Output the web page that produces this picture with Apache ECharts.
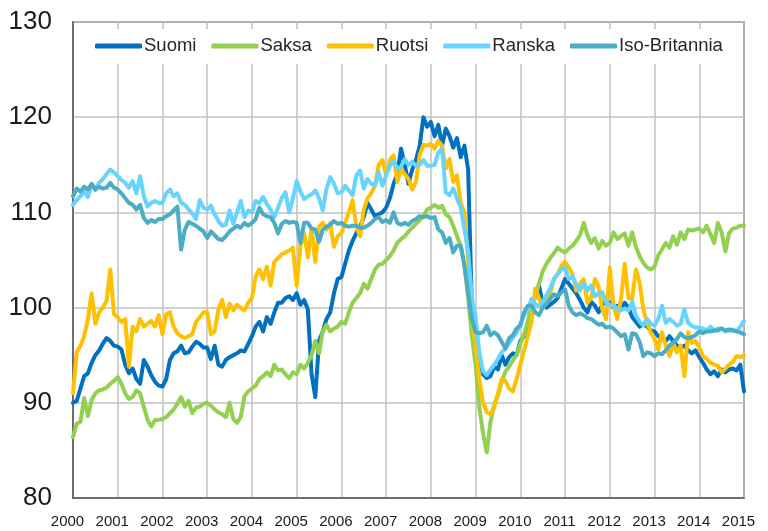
<!DOCTYPE html>
<html>
<head>
<meta charset="UTF-8">
<title>Indeksit 2000-2015</title>
<script src="https://cdn.jsdelivr.net/npm/echarts@6/dist/echarts.min.js"></script>
<style>
  html, body { margin: 0; padding: 0; background: #fff; }
  #chart { width: 768px; height: 531px; }
</style>
</head>
<body>
<div id="chart"></div>
<script type="text/javascript">
// kuukausittaiset arvot 1/2000 - 1/2015 (vuosi per rivi)
var suomi = [
  90, 90.2, 91.5, 92.8, 93.1, 94.2, 95, 95.5, 96.2, 96.8, 96.5, 96,
  95.9, 95.6, 94, 93.1, 93.6, 92.5, 92, 94.5, 93.8, 92.9, 92.2, 91.8,
  91.7, 92.5, 94.5, 95.2, 95.4, 96, 95.2, 95.3, 95.9, 96.4, 96.2, 95.8,
  95.8, 94.6, 96, 94, 93.8, 94.5, 94.8, 95, 95.2, 95.5, 95.4, 96.2,
  97, 98, 98.5, 97.5, 99, 98.3, 99.5, 100.5, 100.5, 101, 101.2, 100.8,
  101.5, 100.3, 100.8, 99.8, 93, 90.6, 96.5, 97.5, 98.8, 99.5, 101.5, 103,
  103.2, 104.6, 106, 107, 107.8, 108.5, 109.5, 111, 110.3, 109.6, 109.8, 110,
  110.5, 111.5, 113, 114, 116.7, 115, 113, 114.5, 115.5, 117, 120, 119,
  119.5, 118, 119.2, 117, 118.8, 118, 116.8, 117.8, 115.8, 117, 114.5, 100,
  96.5, 94.5, 93, 92.6, 92.8, 93.8, 93.5, 95, 94, 94.8, 95.2, 95,
  96.5, 97, 98, 99.5, 101.5, 102.3, 100.5, 100, 100.3, 100.6, 101, 102,
  103, 102.5, 102, 101.5, 100.8, 100, 99.5, 100.6, 100.2, 99.5, 100.3, 100.8,
  100.5, 100, 100.2, 99.8, 100.5, 100, 99, 98.5, 98, 98.3, 98, 97.6,
  97.5, 97, 96.8, 96.5, 97, 96.5, 96, 95.8, 96, 95.5, 95.2, 95.5,
  94.8, 94.2, 93.5, 93, 93.3, 92.8, 93.5, 93.2, 93.5, 93.6, 93.4, 94,
  91.2
];
var saksa = [
  86.4, 87.8, 88, 90.5, 88.6, 90.3, 91, 91.3, 91.4, 91.6, 92, 92.3,
  92.7, 92, 91, 90.4, 90.6, 91.3, 91, 89.6, 88.2, 87.5, 88.2, 88.2,
  88.3, 88.5, 88.9, 89.3, 89.9, 90.6, 89.6, 90.2, 88.9, 89.5, 89.6, 89.9,
  90, 89.7, 89.3, 89, 88.8, 88.5, 90, 88.3, 87.9, 88.5, 90.7, 91.2,
  91.5, 91.8, 92.5, 92.8, 93.2, 92.8, 94, 93.4, 93.5, 93, 92.6, 93.2,
  93, 94, 93.6, 94.2, 95, 96.5, 95.2, 97.5, 98.2, 97.5, 97.8, 98,
  98.5, 98.3, 99.5, 100.5, 101, 101.5, 102.5, 102, 103, 104, 104.5, 104.6,
  105, 105.4, 106, 106.8, 107.2, 107.5, 108, 108.4, 108.8, 109.2, 109.6, 110.3,
  110.5, 110.8, 110.5, 110.7, 109.8, 109.5, 108.6, 107.5, 106.5, 104.5, 101, 97,
  94, 89.5, 86.8, 84.8, 88, 89.8, 90.8, 92.2, 93.3, 93.8, 94.5, 95,
  96.2, 97.2, 98.5, 100.5, 101, 102.5, 103.8, 104.6, 105.2, 105.7, 106.3, 106,
  105.8, 106.2, 106.5, 107, 107.6, 108.9, 107.6, 106.8, 107.3, 106.2, 107, 106.5,
  106.8, 107.9, 107.2, 107.5, 107.8, 106.5, 107.9, 106.4, 105.4, 104.7, 104.2, 104,
  104.3, 105.5, 106.1, 106.8, 106.3, 107.5, 106.6, 107.9, 107.2, 108.2, 108.1, 108.2,
  108.3, 107.9, 108.6, 107.7, 106.8, 108.9, 107.9, 105.9, 107.8, 108.3, 108.4, 108.6,
  108.6
];
var ruotsi = [
  91, 95.3, 96, 97, 98.8, 101.5, 98.3, 99.5, 100, 100.7, 104, 99.3,
  99, 98.5, 98.8, 93.8, 98, 97.5, 98.8, 98, 98.3, 98.6, 98, 99.2,
  97.2, 99.3, 99.5, 98, 97.3, 97, 96.8, 97, 97.2, 98.5, 99, 99.5,
  99.5, 97.2, 97.5, 99.8, 100.8, 99, 100.4, 99.7, 100.3, 100, 99.7, 100.5,
  101, 103.3, 104, 103, 104.3, 102.3, 104.8, 105.2, 105.6, 105.8, 106, 106.3,
  102.3, 106.5, 107.8, 105.3, 108.2, 104.8, 108.5, 108.9, 108.2, 108.9, 106.4, 107.5,
  107.8, 108.9, 110, 111.3, 108.5, 107.5, 110.3, 111.5, 112, 112.8, 115, 115.5,
  113.9, 115.5, 116, 113.2, 114.6, 114, 113.5, 112.4, 113.2, 116, 117.1, 117,
  117.2, 116.7, 117.5, 117, 114.6, 115.6, 113.2, 113.9, 111, 110, 105, 99,
  96, 92.5, 90, 89, 88.8, 89.5, 91, 92.5, 92.3, 91.5, 91.2, 92.5,
  94, 95.5, 97, 98.5, 102, 101, 100, 100.5, 101.5, 103, 103.5, 104.4,
  104.8, 104.2, 103.5, 101.8, 102.5, 103, 100.5, 101, 103, 102.2, 99.8, 98.8,
  104.2, 100.2, 98.8, 100.9, 104.6, 101, 100.9, 104, 102.6, 99.8, 98.4, 97.4,
  96.7, 95.6, 97.4, 96, 94.9, 96.3, 95.3, 96, 92.8, 97.4, 96.3, 96.5,
  95.8, 94.9, 94.6, 94.2, 94, 93.9, 93.2, 93.6, 94, 94.3, 94.9, 94.8,
  95
];
var ranska = [
  110.8, 111.3, 111.7, 112.2, 111.6, 112.9, 112.4, 113.1, 113.5, 114, 114.5, 114.2,
  113.8, 113.4, 113.1, 112.6, 113.3, 112, 113.8, 111.7, 110.6, 111, 111.2, 111,
  111, 112, 112.4, 111.7, 112, 111, 110.8, 110.3, 109.9, 109.3, 111.3, 110.5,
  110.3, 110.7, 109.8, 109.1, 108.6, 108.7, 110.2, 108.8, 110, 111.2, 109.5, 110.2,
  110, 111.2, 111, 111.6, 110.9, 110.3, 109.5, 110.5, 111.5, 112.1, 110, 111.5,
  113.3, 112.2, 111.4, 111.7, 111.9, 112.3, 111.5, 110.2, 112.5, 113.7, 113, 112,
  112.1, 112.8, 112.3, 111.8, 113.9, 114.4, 112.5, 113.5, 113, 112.8, 114.2, 112.8,
  113.9, 114.9, 115.4, 114.6, 114.8, 115.6, 115, 115.3, 114.9, 115, 115.5, 114.9,
  114.9, 115, 116.3, 116.7, 112.1, 111.8, 112.5, 111.5, 110.5, 108.2, 106, 101,
  99, 95.3, 93.3, 92.9, 93.5, 94, 94.6, 95.3, 95.7, 96.3, 96.8, 97.4,
  98.3, 99.2, 99.8, 100.9, 100.3, 100.2, 100.6, 101.3, 102, 103, 103.5, 104,
  104.2, 103, 103.3, 102.4, 101.8, 102.6, 101.8, 102.3, 101.2, 101.5, 101.6, 100.5,
  100.3, 100.2, 99.9, 99.7, 99.9, 99.7, 100.6, 99.2, 98.5, 98.1, 98.8, 98.3,
  98.1, 98.8, 100.2, 98.4, 98.8, 98.5, 98.1, 98.3, 99.8, 98.4, 98.1, 97.9,
  97.9, 97.8, 97.6, 98, 97.6, 97.8, 97.8, 97.5, 97.6, 97.7, 97.5, 98,
  98.6
];
var britannia = [
  111.7, 112.5, 112.2, 112.7, 112.4, 113, 112.4, 112.7, 112.5, 112.6, 113.1, 112.6,
  112.4, 112, 111.5, 111, 110.8, 110.3, 110.8, 109.4, 108.9, 109.2, 109, 109.3,
  109.3, 109.6, 109.8, 110.2, 110.6, 106.1, 108.2, 109, 108.8, 108.6, 108.3, 108,
  107.3, 108, 107.6, 107.2, 107.1, 107.5, 108, 108.3, 108.6, 108.4, 108.9, 108.6,
  108.9, 109.3, 110.5, 109.8, 109.6, 109.5, 108.9, 107.8, 108.8, 109.1, 108.9, 109,
  108.9, 106.8, 108.9, 108.9, 108.3, 108.2, 106.9, 108.2, 108.5, 108.7, 109.1, 108.8,
  108.9, 108.6, 108.5, 108.6, 108.6, 108.4, 108.4, 108.6, 108.9, 109.3, 109.5, 109,
  109.2, 108.9, 110, 108.9, 108.7, 108.9, 108.7, 109.1, 109.3, 109.6, 109.5, 109.6,
  109.4, 109.5, 108.2, 107.9, 106.8, 107.3, 105.8, 106.5, 106.5, 104.4, 101.6, 98.8,
  97.4, 97.3, 97.4, 98.1, 97.1, 97.4, 97.1, 96.4, 95.7, 96.8, 97.1, 97.8,
  98.1, 99.5, 100.2, 100.2, 99.5, 99.2, 100, 100.4, 100.9, 101.4, 101.2, 101.6,
  101.9, 100.2, 99.5, 99.2, 99.4, 99.2, 98.9, 98.8, 98.5, 98.2, 98.3, 97.9,
  98, 97.8, 97.4, 97, 97.2, 95.6, 97.3, 97.2, 96.4, 94.9, 95.3, 95.2,
  94.9, 95.2, 95.1, 95.5, 96, 96.3, 96.7, 97.3, 96.9, 96.8, 96.9, 97.1,
  97.5, 97.3, 97.5, 97.5, 97.6, 97.6, 97.8, 97.6, 97.7, 97.6, 97.5, 97.4,
  97.2
];

var nimet = ['Suomi', 'Saksa', 'Ruotsi', 'Ranska', 'Iso-Britannia'];
var varit = ['#0070C0', '#92D050', '#FFC000', '#66D4FF', '#4BACC6'];
var sarjat = [suomi, saksa, ruotsi, ranska, britannia];
var alkuVuosi = 2000;
var loppuVuosi = 2015;

// kuukausi -> x-akselin arvo (vuosi + kk/12)
function pisteet(arvot) {
  var out = [];
  for (var i = 0; i < arvot.length; i++) {
    out.push([alkuVuosi + i / 12, arvot[i]]);
  }
  return out;
}

var series = [];
for (var s = 0; s < sarjat.length; s++) {
  series.push({
    name: nimet[s],
    type: 'line',
    data: pisteet(sarjat[s]),
    showSymbol: false,
    symbol: 'none',
    lineStyle: { width: 4, color: varit[s], join: 'round', cap: 'round' },
    itemStyle: { color: varit[s] },
    animation: false
  });
}

var myChart = echarts.init(document.getElementById('chart'));

var option = {
  backgroundColor: '#fff',
  textStyle: { fontFamily: 'Liberation Sans, Arial, sans-serif' },
  grid: {
    left: 73, right: 24, top: 22, bottom: 33,
    show: true, borderColor: '#595959', borderWidth: 1.5
  },
  legend: {
    data: nimet,
    top: 29,
    left: 83,
    padding: [6, 12, 7, 12],
    backgroundColor: '#fff',
    itemWidth: 47,
    itemHeight: 5,
    itemGap: 15,
    icon: 'roundRect',
    textStyle: { fontSize: 18.5, lineHeight: 22, color: '#262626', padding: [0, 0, 0, -3] }
  },
  xAxis: {
    type: 'value',
    min: alkuVuosi,
    max: loppuVuosi,
    interval: 1,
    axisLine: { lineStyle: { color: '#595959', width: 1.5 } },
    axisTick: { show: false },
    axisLabel: {
      fontSize: 15, color: '#1a1a1a', margin: 16, padding: [0, 11, 0, 0],
      formatter: function (v) { return String(v); }
    },
    splitLine: { show: true, lineStyle: { color: '#c0c0c0', width: 1.5 } }
  },
  yAxis: {
    type: 'value',
    min: 80,
    max: 130,
    interval: 10,
    axisLine: { show: true, lineStyle: { color: '#595959', width: 1.5 } },
    axisTick: { show: false },
    axisLabel: { fontSize: 26, color: '#1a1a1a', margin: 21 },
    splitLine: { show: true, lineStyle: { color: '#c0c0c0', width: 1.5 } }
  },
  series: series
};

myChart.setOption(option);
</script>
</body>
</html>
